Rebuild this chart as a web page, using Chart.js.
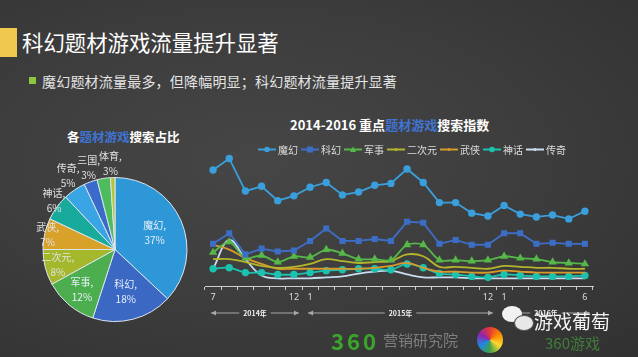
<!DOCTYPE html>
<html><head><meta charset="utf-8">
<script src="https://cdn.jsdelivr.net/npm/chart.js@4"></script>
<style>
html,body{margin:0;padding:0;}
body{width:638px;height:357px;overflow:hidden;position:relative;
background:radial-gradient(ellipse at 40% 45%, #464646 0%, #3c3c3c 55%, #313131 100%);
font-family:"Noto Sans CJK SC","Noto Sans",sans-serif;}
.abs{position:absolute;white-space:nowrap;}
canvas{position:absolute;}
</style></head><body>
<div class="abs" style="left:0;top:28px;width:17px;height:29px;background:#f1c84e"></div>
<div class="abs" style="left:22px;top:27px;font-size:21.4px;line-height:30px;color:#fff;">科幻题材游戏流量提升显著</div>
<div class="abs" style="left:29px;top:77px;width:7px;height:7px;background:#8cc63f"></div>
<div class="abs" style="left:42px;top:72px;font-size:14px;line-height:18px;color:#e4e4e4;letter-spacing:0.2px">魔幻题材流量最多，但降幅明显；科幻题材流量提升显著</div>
<div class="abs" style="left:67px;top:128px;font-size:12.5px;line-height:17px;font-weight:bold;color:#fff">各<span style="color:#3f74d2">题材游戏</span>搜索占比</div>
<div class="abs" style="left:290px;top:116px;font-size:13px;line-height:18px;font-weight:bold;color:#fff">2014-2016 重点<span style="color:#3f74d2">题材游戏</span>搜索指数</div>

<canvas id="pie" width="230" height="200" style="left:0;top:145px;width:230px;height:200px"></canvas>
<canvas id="line" width="410" height="179" style="left:195px;top:145px;width:410px;height:179px"></canvas>

<div class="abs" style="left:331px;top:327px;font-size:22px;line-height:26px;font-weight:bold;color:#3aa52a;letter-spacing:3px">360</div>
<div class="abs" style="left:383px;top:330px;font-size:15px;line-height:20px;color:#7e7e7e">营销研究院</div>
<div class="abs" style="left:477px;top:327px;width:26px;height:26px;border-radius:50%;background:conic-gradient(#e53935,#fb8c00,#fdd835,#43a047,#1e88e5,#8e24aa,#e53935)"></div>
<div class="abs" style="left:502px;top:306px;width:20px;height:16px;border-radius:50%;background:#f2f2f2"></div>
<div class="abs" style="left:514px;top:315px;width:18px;height:14px;border-radius:50%;background:#e8e8e8;border:1px solid #555"></div>
<div class="abs" style="left:534px;top:309px;font-size:19px;line-height:24px;color:#f4f4f4">游戏葡萄</div>
<div class="abs" style="left:545px;top:333px;font-size:15px;line-height:20px;color:rgba(70,150,60,0.75)">360游戏</div>

<script>
// ---------- data ----------
const months = ['2014-07','2014-08','2014-09','2014-10','2014-11','2014-12',
  '2015-01','2015-02','2015-03','2015-04','2015-05','2015-06','2015-07','2015-08','2015-09','2015-10','2015-11','2015-12',
  '2016-01','2016-02','2016-03','2016-04','2016-05','2016-06'];
const tickLabels = ['7','','','','','12','1','','','','','','','','','','','12','1','','','','','6'];
const seriesNames = ['魔幻','科幻','军事','二次元','武侠','神话','传奇'];
const mohuan   = [121,133,99,104,89,94,103,108,95,98,105,107,122,108,87,87,76,73,84,75,72,74,70,78];
const kehuan   = [44,55,33,39,36,37,47,60,47,47,49,47,67,66,44,48,43,43,55,55,44,45,44,44];
const junshi   = [35,46,29,32,25,31,30,38,34,28,28,27,43,43,27,27,26,27,31,29,28,25,24,23];
const erciyuan = [28,28,25,21,19,20,23,28,26,24,25,26,33,31,20,20,19,18,21,20,19,19,18,18];
const wuxia    = [43,38,29,23,18,18,18,18,18,18,19,21,24,19,15,15,14,14,16,15,14,14,14,14];
const shenhua  = [18,19,14,14,12,12,14,16,17,18,18,17,23,19,13,12,10,9,12,11,10,10,10,11];
const chuanqi  = [18,48,28,11,8,8,8,9,10,13,15,16,12,9,9,9,8,8,8,8,8,8,8,8];

const pieCategories = ['魔幻','科幻','军事','二次元','武侠','神话','传奇','三国','体育',''];
const pieShares = [37,18,12,8,7,6,5,3,3,1];

// ---------- pie ----------
const pieColors = ['#2e97d7','#3a68c2','#4cae4e','#a5b72a','#d8a12a','#18ab9c','#39a5e4','#3b6bca','#4dbb5e','#b6c534'];
const labelPos = [ // radius factor, angle offset (deg)
  [0.6,0],[0.6,0],[0.72,0],[0.82,0],[0.96,0],[1.09,3],[1.22,2],[1.2,2],[1.2,6],null];
const pieLabelPlugin = {
  id:'pieLabels',
  afterDatasetsDraw(chart){
    const ctx = chart.ctx; const meta = chart.getDatasetMeta(0);
    ctx.save();
    ctx.font = '10px "Noto Sans CJK SC", sans-serif';
    ctx.textAlign='center'; ctx.textBaseline='middle';
    meta.data.forEach((arc,i)=>{
      const lp = labelPos[i]; if(!lp || !pieCategories[i]) return;
      const p = arc.getProps(['x','y','startAngle','endAngle','outerRadius'],true);
      const a = (p.startAngle+p.endAngle)/2 + lp[1]*Math.PI/180;
      const r = p.outerRadius*lp[0];
      const x = p.x + Math.cos(a)*r, y = p.y + Math.sin(a)*r;
      ctx.fillStyle = i<3 ? '#e8f0fa' : '#e2e2e2';
      ctx.fillText(pieCategories[i]+',', x, y-7);
      ctx.fillText(pieShares[i]+'%', x, y+8);
    });
    ctx.restore();
  }
};
new Chart(document.getElementById('pie'),{
  type:'pie',
  data:{labels:pieCategories,datasets:[{data:pieShares,backgroundColor:pieColors,borderColor:'#dce6ee',borderWidth:1}]},
  options:{responsive:false,animation:false,
    layout:{padding:{left:42.5,right:42.5,top:32,bottom:23}},
    plugins:{legend:{display:false},tooltip:{enabled:false}}},
  plugins:[pieLabelPlugin]
});

// ---------- line ----------
const lineStyles = [
  {c:'#3a9fdc',ps:'circle',r:2.8,t:0},
  {c:'#3d6ec6',ps:'rect',r:3,t:0},
  {c:'#56b848',ps:'triangle',r:3,t:0.3},
  {c:'#b3b52b',ps:'circle',r:0,t:0.4},
  {c:'#d69a2c',ps:'circle',r:0,t:0.4},
  {c:'#1cc2b0',ps:'circle',r:2.8,t:0.4},
  {c:'#c9dcf0',ps:'circle',r:0,t:0.4}
];
const seriesData = [mohuan,kehuan,junshi,erciyuan,wuxia,shenhua,chuanqi];
const datasets = seriesNames.map((n,i)=>({
  label:n,data:seriesData[i],borderColor:lineStyles[i].c,backgroundColor:lineStyles[i].c,
  pointBackgroundColor:lineStyles[i].c,pointBorderColor:lineStyles[i].c,
  pointStyle:lineStyles[i].ps,pointRadius:lineStyles[i].r,borderWidth:1.8,tension:lineStyles[i].t
}));

const extrasPlugin = {
  id:'extras',
  afterDraw(chart){
    const ctx = chart.ctx;
    // legend
    ctx.save();
    ctx.font = '10px "Noto Sans CJK SC", sans-serif';
    ctx.textBaseline='middle'; ctx.textAlign='left';
    const iconW=18, gap=2, sp=3;
    let total=0;
    seriesNames.forEach((n,i)=>{ total += iconW+gap+ctx.measureText(n).width + (i<seriesNames.length-1?sp:0); });
    let x = 217 - total/2; const y = 4.5;
    seriesNames.forEach((n,i)=>{
      const s = lineStyles[i];
      ctx.strokeStyle=s.c; ctx.lineWidth=2;
      ctx.beginPath(); ctx.moveTo(x,y); ctx.lineTo(x+iconW,y); ctx.stroke();
      const mr = s.r>0 ? s.r : 1.5;
      ctx.fillStyle=s.c;
      ctx.beginPath();
      if(s.ps==='rect'){ ctx.rect(x+iconW/2-mr,y-mr,mr*2,mr*2); }
      else if(s.ps==='triangle'){ ctx.moveTo(x+iconW/2,y-mr); ctx.lineTo(x+iconW/2+mr,y+mr*0.8); ctx.lineTo(x+iconW/2-mr,y+mr*0.8); ctx.closePath(); }
      else { ctx.arc(x+iconW/2,y,mr,0,Math.PI*2); }
      ctx.fill();
      x += iconW+gap;
      ctx.fillStyle='#dedede'; ctx.fillText(n,x,y+0.5);
      x += ctx.measureText(n).width + sp;
    });
    // year brackets
    const xs = chart.scales.x;
    const groups = [];
    months.forEach((m,i)=>{
      const yr = m.slice(0,4);
      if(!groups.length || groups[groups.length-1].yr!==yr) groups.push({yr,s:i,e:i}); else groups[groups.length-1].e=i;
    });
    const by = 168;
    ctx.font = 'bold 7px "Noto Sans CJK SC", sans-serif';
    ctx.textAlign='center';
    groups.forEach(g=>{
      const x1 = xs.getPixelForValue(g.s)-2, x2 = xs.getPixelForValue(g.e)+5;
      const txt = g.yr+'年'; const cx=(x1+x2)/2; const tw = ctx.measureText(txt).width+8;
      ctx.strokeStyle='#a8a8a8'; ctx.fillStyle='#a8a8a8'; ctx.lineWidth=1;
      ctx.beginPath(); ctx.moveTo(x1,by); ctx.lineTo(cx-tw/2,by); ctx.moveTo(cx+tw/2,by); ctx.lineTo(x2,by); ctx.stroke();
      ctx.beginPath(); ctx.moveTo(x1,by); ctx.lineTo(x1+5,by-2.5); ctx.lineTo(x1+5,by+2.5); ctx.closePath(); ctx.fill();
      ctx.beginPath(); ctx.moveTo(x2,by); ctx.lineTo(x2-5,by-2.5); ctx.lineTo(x2-5,by+2.5); ctx.closePath(); ctx.fill();
      ctx.fillStyle='#f0f0f0'; ctx.fillText(txt,cx,by+0.5);
    });
    ctx.restore();
  }
};

new Chart(document.getElementById('line'),{
  type:'line',
  data:{labels:months,datasets},
  options:{responsive:false,animation:false,
    layout:{padding:{left:10,right:12,top:0,bottom:22}},
    plugins:{legend:{display:false},tooltip:{enabled:false}},
    scales:{
      x:{offset:true,
        grid:{offset:true,drawOnChartArea:false,drawTicks:true,tickLength:4,color:'#c8c8c8'},
        border:{display:true,color:'#cfcfcf',width:1},
        ticks:{autoSkip:false,maxRotation:0,padding:2,color:'#dcdcdc',font:{size:9,family:'"Noto Sans", sans-serif'},
          callback:(v,i)=>tickLabels[i]},
        afterFit(s){ s.height=16; }
      },
      y:{display:false,min:0,max:141}
    }
  },
  plugins:[extrasPlugin]
});
</script>
</body></html>
